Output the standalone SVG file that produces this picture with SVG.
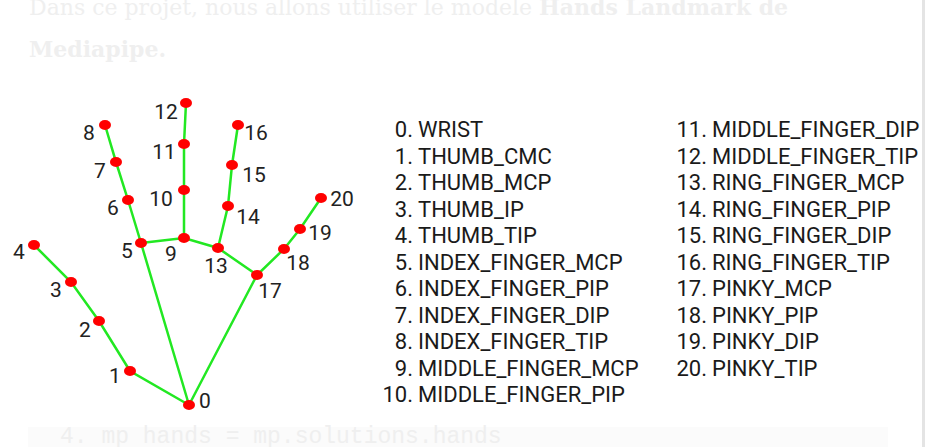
<svg xmlns="http://www.w3.org/2000/svg" width="925" height="447" viewBox="0 0 925 447">
<style>
.bg{fill:#ffffff}
.para{font-family:"DejaVu Serif","Liberation Serif",serif;font-size:22px;fill:#efefef}
.b{font-weight:bold}
.code{font-family:"Liberation Mono","DejaVu Sans Mono",monospace;font-size:23px;fill:#efefef}
.bone{stroke:#22e822;stroke-width:2.5;fill:none;stroke-linecap:round}
.dot{fill:#ff0000}
.lbl{font-family:Roboto,"Liberation Sans",sans-serif;font-size:21px;fill:#222;text-anchor:middle}
.li{font-family:Roboto,"Liberation Sans",sans-serif;font-size:22px;fill:#1a1a1a}
.num{text-anchor:end}
</style>
<rect class="bg" x="0" y="0" width="925" height="447"/>
<text class="para" x="29" y="15">Dans ce projet, nous allons utiliser le modele <tspan class="b">Hands Landmark de</tspan></text>
<text class="para b" x="29" y="57">Mediapipe.</text>
<rect x="28" y="427" width="860" height="20" fill="#fbfbfb"/>
<text class="code" x="60" y="443">4. mp hands = mp.solutions.hands</text>
<rect x="922" y="0" width="3" height="447" fill="#e4e4e4"/>

<g id="connectors">
<polyline class="bone" points="189,405 130,371 99,321 71,282 34,245"/>
<polyline class="bone" points="189,405 141,243 128,200 116,162 105,125"/>
<polyline class="bone" points="141,243 184,238 218,248 257,275"/>
<polyline class="bone" points="184,238 184,190 184,144 186,103"/>
<polyline class="bone" points="218,248 228,206 232,165 238,125"/>
<polyline class="bone" points="189,405 257,275 284,249 300,229 321,198"/>
</g>

<g id="node-0"><ellipse class="dot" cx="189" cy="405" rx="6" ry="5"/><text class="lbl" x="205" y="408">0</text></g>
<g id="node-1"><ellipse class="dot" cx="130" cy="371" rx="6" ry="5"/><text class="lbl" x="115" y="383">1</text></g>
<g id="node-2"><ellipse class="dot" cx="99" cy="321" rx="6" ry="5"/><text class="lbl" x="85" y="337">2</text></g>
<g id="node-3"><ellipse class="dot" cx="71" cy="282" rx="6" ry="5"/><text class="lbl" x="56" y="297">3</text></g>
<g id="node-4"><ellipse class="dot" cx="34" cy="245" rx="6" ry="5"/><text class="lbl" x="19" y="259">4</text></g>
<g id="node-5"><ellipse class="dot" cx="141" cy="243" rx="6" ry="5"/><text class="lbl" x="127" y="258">5</text></g>
<g id="node-6"><ellipse class="dot" cx="128" cy="200" rx="6" ry="5"/><text class="lbl" x="113" y="215">6</text></g>
<g id="node-7"><ellipse class="dot" cx="116" cy="162" rx="6" ry="5"/><text class="lbl" x="100" y="178">7</text></g>
<g id="node-8"><ellipse class="dot" cx="105" cy="125" rx="6" ry="5"/><text class="lbl" x="89" y="140">8</text></g>
<g id="node-9"><ellipse class="dot" cx="184" cy="238" rx="6" ry="5"/><text class="lbl" x="171" y="261">9</text></g>
<g id="node-10"><ellipse class="dot" cx="184" cy="190" rx="6" ry="5"/><text class="lbl" x="161" y="206">10</text></g>
<g id="node-11"><ellipse class="dot" cx="184" cy="144" rx="6" ry="5"/><text class="lbl" x="164" y="159">11</text></g>
<g id="node-12"><ellipse class="dot" cx="186" cy="103" rx="6" ry="5"/><text class="lbl" x="166" y="119">12</text></g>
<g id="node-13"><ellipse class="dot" cx="218" cy="248" rx="6" ry="5"/><text class="lbl" x="216" y="273">13</text></g>
<g id="node-14"><ellipse class="dot" cx="228" cy="206" rx="6" ry="5"/><text class="lbl" x="248" y="224">14</text></g>
<g id="node-15"><ellipse class="dot" cx="232" cy="165" rx="6" ry="5"/><text class="lbl" x="254" y="182">15</text></g>
<g id="node-16"><ellipse class="dot" cx="238" cy="125" rx="6" ry="5"/><text class="lbl" x="256" y="140">16</text></g>
<g id="node-17"><ellipse class="dot" cx="257" cy="275" rx="6" ry="5"/><text class="lbl" x="270" y="298">17</text></g>
<g id="node-18"><ellipse class="dot" cx="284" cy="249" rx="6" ry="5"/><text class="lbl" x="298" y="270">18</text></g>
<g id="node-19"><ellipse class="dot" cx="300" cy="229" rx="6" ry="5"/><text class="lbl" x="320" y="240">19</text></g>
<g id="node-20"><ellipse class="dot" cx="321" cy="198" rx="6" ry="5"/><text class="lbl" x="342" y="206">20</text></g>

<g id="legend">
<text class="li num" x="413" y="137">0.</text><text class="li" x="418" y="137">WRIST</text>
<text class="li num" x="413" y="163.5">1.</text><text class="li" x="418" y="163.5">THUMB_CMC</text>
<text class="li num" x="413" y="190">2.</text><text class="li" x="418" y="190">THUMB_MCP</text>
<text class="li num" x="413" y="216.5">3.</text><text class="li" x="418" y="216.5">THUMB_IP</text>
<text class="li num" x="413" y="243">4.</text><text class="li" x="418" y="243">THUMB_TIP</text>
<text class="li num" x="413" y="269.5">5.</text><text class="li" x="418" y="269.5">INDEX_FINGER_MCP</text>
<text class="li num" x="413" y="296">6.</text><text class="li" x="418" y="296">INDEX_FINGER_PIP</text>
<text class="li num" x="413" y="322.5">7.</text><text class="li" x="418" y="322.5">INDEX_FINGER_DIP</text>
<text class="li num" x="413" y="349">8.</text><text class="li" x="418" y="349">INDEX_FINGER_TIP</text>
<text class="li num" x="413" y="375.5">9.</text><text class="li" x="418" y="375.5">MIDDLE_FINGER_MCP</text>
<text class="li num" x="413" y="402">10.</text><text class="li" x="418" y="402">MIDDLE_FINGER_PIP</text>
<text class="li num" x="707" y="137">11.</text><text class="li" x="712" y="137">MIDDLE_FINGER_DIP</text>
<text class="li num" x="707" y="163.5">12.</text><text class="li" x="712" y="163.5">MIDDLE_FINGER_TIP</text>
<text class="li num" x="707" y="190">13.</text><text class="li" x="712" y="190">RING_FINGER_MCP</text>
<text class="li num" x="707" y="216.5">14.</text><text class="li" x="712" y="216.5">RING_FINGER_PIP</text>
<text class="li num" x="707" y="243">15.</text><text class="li" x="712" y="243">RING_FINGER_DIP</text>
<text class="li num" x="707" y="269.5">16.</text><text class="li" x="712" y="269.5">RING_FINGER_TIP</text>
<text class="li num" x="707" y="296">17.</text><text class="li" x="712" y="296">PINKY_MCP</text>
<text class="li num" x="707" y="322.5">18.</text><text class="li" x="712" y="322.5">PINKY_PIP</text>
<text class="li num" x="707" y="349">19.</text><text class="li" x="712" y="349">PINKY_DIP</text>
<text class="li num" x="707" y="375.5">20.</text><text class="li" x="712" y="375.5">PINKY_TIP</text>
</g>
</svg>
